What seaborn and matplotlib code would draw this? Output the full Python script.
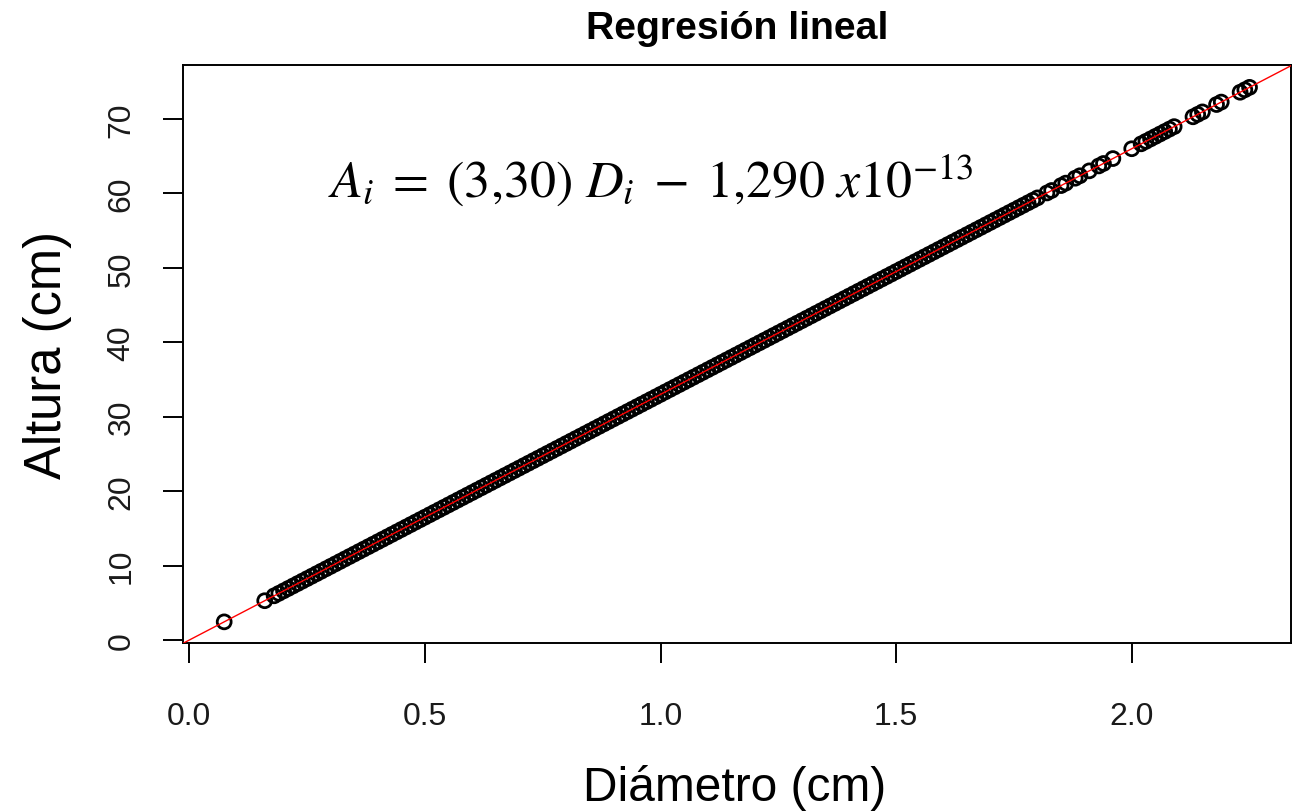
import matplotlib
matplotlib.use("Agg")
import matplotlib.pyplot as plt
import pandas as pd
import seaborn as sns

# ---- data ----
diametro = [
    0.074, 0.16,
    0.18, 0.19, 0.20, 0.21, 0.22, 0.23, 0.24, 0.25, 0.26, 0.27, 0.28, 0.29,
    0.30, 0.31, 0.32, 0.33, 0.34, 0.35, 0.36, 0.37, 0.38, 0.39,
    0.40, 0.41, 0.42, 0.43, 0.44, 0.45, 0.46, 0.47, 0.48, 0.49,
    0.50, 0.51, 0.52, 0.53, 0.54, 0.55, 0.56, 0.57, 0.58, 0.59,
    0.60, 0.61, 0.62, 0.63, 0.64, 0.65, 0.66, 0.67, 0.68, 0.69,
    0.70, 0.71, 0.72, 0.73, 0.74, 0.75, 0.76, 0.77, 0.78, 0.79,
    0.80, 0.81, 0.82, 0.83, 0.84, 0.85, 0.86, 0.87, 0.88, 0.89,
    0.90, 0.91, 0.92, 0.93, 0.94, 0.95, 0.96, 0.97, 0.98, 0.99,
    1.00, 1.01, 1.02, 1.03, 1.04, 1.05, 1.06, 1.07, 1.08, 1.09,
    1.10, 1.11, 1.12, 1.13, 1.14, 1.15, 1.16, 1.17, 1.18, 1.19,
    1.20, 1.21, 1.22, 1.23, 1.24, 1.25, 1.26, 1.27, 1.28, 1.29,
    1.30, 1.31, 1.32, 1.33, 1.34, 1.35, 1.36, 1.37, 1.38, 1.39,
    1.40, 1.41, 1.42, 1.43, 1.44, 1.45, 1.46, 1.47, 1.48, 1.49,
    1.50, 1.51, 1.52, 1.53, 1.54, 1.55, 1.56, 1.57, 1.58, 1.59,
    1.60, 1.61, 1.62, 1.63, 1.64, 1.65, 1.66, 1.67, 1.68, 1.69,
    1.70, 1.71, 1.72, 1.73, 1.74, 1.75, 1.76, 1.77, 1.78, 1.79,
    1.80, 1.82, 1.83, 1.85, 1.86, 1.88, 1.89, 1.91, 1.93, 1.94, 1.96,
    2.00, 2.02, 2.03, 2.04, 2.05, 2.06, 2.07, 2.08, 2.09,
    2.13, 2.14, 2.15, 2.18, 2.19, 2.23, 2.24, 2.25,
]
altura = [
    2.44, 5.28,
    5.94, 6.27, 6.60, 6.93, 7.26, 7.59, 7.92, 8.25, 8.58, 8.91, 9.24, 9.57,
    9.90, 10.23, 10.56, 10.89, 11.22, 11.55, 11.88, 12.21, 12.54, 12.87,
    13.20, 13.53, 13.86, 14.19, 14.52, 14.85, 15.18, 15.51, 15.84, 16.17,
    16.50, 16.83, 17.16, 17.49, 17.82, 18.15, 18.48, 18.81, 19.14, 19.47,
    19.80, 20.13, 20.46, 20.79, 21.12, 21.45, 21.78, 22.11, 22.44, 22.77,
    23.10, 23.43, 23.76, 24.09, 24.42, 24.75, 25.08, 25.41, 25.74, 26.07,
    26.40, 26.73, 27.06, 27.39, 27.72, 28.05, 28.38, 28.71, 29.04, 29.37,
    29.70, 30.03, 30.36, 30.69, 31.02, 31.35, 31.68, 32.01, 32.34, 32.67,
    33.00, 33.33, 33.66, 33.99, 34.32, 34.65, 34.98, 35.31, 35.64, 35.97,
    36.30, 36.63, 36.96, 37.29, 37.62, 37.95, 38.28, 38.61, 38.94, 39.27,
    39.60, 39.93, 40.26, 40.59, 40.92, 41.25, 41.58, 41.91, 42.24, 42.57,
    42.90, 43.23, 43.56, 43.89, 44.22, 44.55, 44.88, 45.21, 45.54, 45.87,
    46.20, 46.53, 46.86, 47.19, 47.52, 47.85, 48.18, 48.51, 48.84, 49.17,
    49.50, 49.83, 50.16, 50.49, 50.82, 51.15, 51.48, 51.81, 52.14, 52.47,
    52.80, 53.13, 53.46, 53.79, 54.12, 54.45, 54.78, 55.11, 55.44, 55.77,
    56.10, 56.43, 56.76, 57.09, 57.42, 57.75, 58.08, 58.41, 58.74, 59.07,
    59.40, 60.06, 60.39, 61.05, 61.38, 62.04, 62.37, 63.03, 63.69, 64.02, 64.68,
    66.00, 66.66, 66.99, 67.32, 67.65, 67.98, 68.31, 68.64, 68.97,
    70.29, 70.62, 70.95, 71.94, 72.27, 73.59, 73.92, 74.25,
]
x_ticks = [0.0, 0.5, 1.0, 1.5, 2.0]
x_tick_labels = ["0.0", "0.5", "1.0", "1.5", "2.0"]
y_ticks = [0, 10, 20, 30, 40, 50, 60, 70]
y_tick_labels = ["0", "10", "20", "30", "40", "50", "60", "70"]
titulo = "Regresión lineal"
x_label = "Diámetro (cm)"
y_label = "Altura (cm)"
ecuacion = r"$A_i\;=\;(3{,}30)\ D_i\;-\;1{,}290\ x10^{-13}$"

# ---- style ----
sns.set_theme(style="white")
plt.rcParams["font.family"] = ["Liberation Sans", "DejaVu Sans"]
plt.rcParams["mathtext.fontset"] = "stix"

fig = plt.figure(figsize=(13.02, 8.12), dpi=100)
ax = fig.add_axes([183 / 1302, 1 - 644 / 812, (1291 - 183) / 1302, (644 - 66) / 812])

xlim = (-0.0134, 2.338)
ylim = (-0.40, 77.25)
ax.set_xlim(*xlim)
ax.set_ylim(*ylim)

df = pd.DataFrame({"Diametro": diametro, "Altura": altura})

sns.scatterplot(data=df, x="Diametro", y="Altura", ax=ax, marker="o", s=100,
                linewidth=2.0, color="black", zorder=2, legend=False)
pts = ax.collections[0]
pts.set_facecolor("none")
pts.set_edgecolor("black")

sns.regplot(data=df, x="Diametro", y="Altura", ax=ax, scatter=False, ci=None,
            truncate=False, line_kws=dict(color="red", lw=1.0, zorder=3))

ax.set_xlim(*xlim)
ax.set_ylim(*ylim)

for s in ax.spines.values():
    s.set_visible(True)
    s.set_color("black")
    s.set_linewidth(1.4)

ax.set_xticks(x_ticks)
ax.set_xticklabels(x_tick_labels)
ax.set_yticks(y_ticks)
ax.set_yticklabels(y_tick_labels)
ax.tick_params(axis="both", which="major", bottom=True, left=True, direction="out",
               length=14.5, width=1.4, color="black", labelsize=23, labelcolor="#1a1a1a")
ax.tick_params(axis="x", pad=27)
ax.tick_params(axis="y", pad=19, labelrotation=90)
for lab in ax.get_yticklabels():
    lab.set_va("center")

ax.set_xlabel(x_label, fontsize=34.5, color="black")
ax.set_ylabel(y_label, fontsize=36.5, color="black")
ax.xaxis.set_label_coords(0.498, -0.210)
ax.yaxis.set_label_coords(-0.100, 0.5)
ax.set_title(titulo, fontsize=28.3, fontweight="bold", pad=19.4, color="black")

fig.text(328 / 1302, 1 - 198 / 812, ecuacion, ha="left", va="baseline",
         fontsize=37.5, color="black")

fig.savefig("out.png", dpi=100)
